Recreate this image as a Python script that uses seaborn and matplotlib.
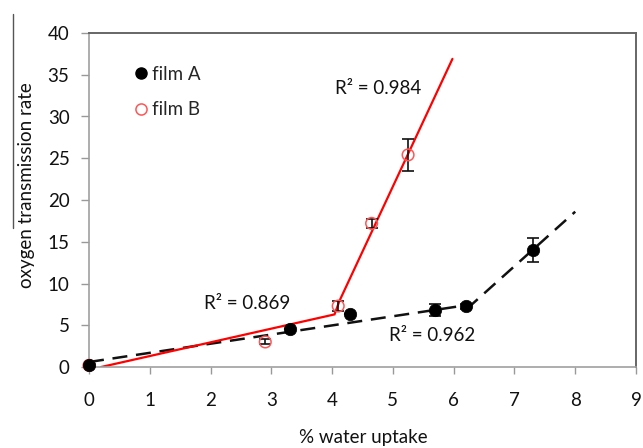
import matplotlib
matplotlib.use("Agg")
import matplotlib.pyplot as plt
import seaborn as sns
import pandas as pd
from matplotlib.lines import Line2D

# ---- data ----
film_a_x = [0.0, 3.3, 4.3, 5.7, 6.2, 7.3]
film_a_y = [0.25, 4.5, 6.4, 6.8, 7.3, 14.0]
film_a_err = [0.0, 0.0, 0.0, 0.7, 0.3, 1.4]

film_b_x = [0.0, 2.9, 4.1, 4.65, 5.25]
film_b_y = [0.2, 3.0, 7.3, 17.2, 25.4]
film_b_err = [0.0, 0.3, 0.6, 0.5, 1.9]

# trend lines (piecewise)
fit_b_x = [0.2, 4.04, 4.12, 5.98]
fit_b_y = [0.0, 6.3, 7.9, 36.9]
fit_a_x = [0.0, 6.3, 8.0]
fit_a_y = [0.6, 7.5, 18.6]

r2_labels = ["R\u00b2 = 0.984", "R\u00b2 = 0.869", "R\u00b2 = 0.962"]
r2_pos_x = [4.75, 2.6, 5.65]
r2_pos_y = [33.4, 7.6, 3.8]

x_ticks = list(range(0, 10))
y_ticks = list(range(0, 45, 5))

sns.set_theme(style="white")
plt.rcParams['font.family'] = ['Lato', 'DejaVu Sans']

fig = plt.figure(figsize=(6.43, 4.48), dpi=100)
ax = fig.add_axes([89/643, 1-367/448, (636-89)/643, (367-33)/448])

dfa = pd.DataFrame({"x": film_a_x, "y": film_a_y})
dfb = pd.DataFrame({"x": film_b_x, "y": film_b_y})
fa = pd.DataFrame({"x": fit_a_x, "y": fit_a_y})
fb = pd.DataFrame({"x": fit_b_x, "y": fit_b_y})

# error bars (black)
ax.errorbar(film_a_x, film_a_y, yerr=film_a_err, fmt='none', ecolor='#111111',
            elinewidth=1.2, capsize=4, capthick=1.2, zorder=3)
ax.errorbar(film_b_x, film_b_y, yerr=film_b_err, fmt='none', ecolor='#111111',
            elinewidth=1.2, capsize=4, capthick=1.2, zorder=3)

sns.lineplot(data=fa, x="x", y="y", sort=False, ax=ax, color='#111111',
             linewidth=1.8, zorder=2)
ax.lines[-1].set_dashes([6, 3.5])
sns.lineplot(data=fb, x="x", y="y", sort=False, ax=ax, color='#ff0000',
             linewidth=1.6, zorder=2)

sns.scatterplot(data=dfb, x="x", y="y", ax=ax, s=70, facecolor='none',
                edgecolor='#ff5555', linewidth=1.1, zorder=4, clip_on=False)
sns.scatterplot(data=dfa, x="x", y="y", ax=ax, s=80, color='black',
                edgecolor='black', linewidth=0.5, zorder=5, clip_on=False)

for t, px, py in zip(r2_labels, r2_pos_x, r2_pos_y):
    ax.text(px, py, t, fontsize=13.5, ha='center', va='center', color='#111111',
            bbox=dict(facecolor='white', edgecolor='none', pad=2), zorder=1)

# legend
handles = [Line2D([], [], marker='o', linestyle='none', markersize=8,
                  markerfacecolor='black', markeredgecolor='black'),
           Line2D([], [], marker='o', linestyle='none', markersize=8,
                  markerfacecolor='none', markeredgecolor='#ff5555', markeredgewidth=1.1)]
ax.legend(handles, ["film A", "film B"], loc='upper left', bbox_to_anchor=(0.06, 0.925),
          frameon=False, fontsize=13.5, handletextpad=0.0, handlelength=1.2,
          labelspacing=1.0, borderaxespad=0)

ax.set_xlim(0, 9)
ax.set_ylim(0, 40)
ax.set_xticks(x_ticks)
ax.set_yticks(y_ticks)
ax.set_xticklabels([str(v) for v in x_ticks], fontsize=13.5)
ax.set_yticklabels([str(v) for v in y_ticks], fontsize=13.5)
ax.tick_params(axis='x', direction='out', length=5, width=1, color='#999999', pad=13, labelcolor='#111111')
ax.tick_params(axis='y', direction='out', length=6, width=1, color='#999999', pad=8, labelcolor='#111111')
ax.tick_params(bottom=True, left=True)
ax.set_xlabel("")
ax.set_ylabel("")

for side in ['left', 'bottom']:
    ax.spines[side].set_color('#a0a0a0')
    ax.spines[side].set_linewidth(1.2)
for side in ['top', 'right']:
    ax.spines[side].set_color('#666666')
    ax.spines[side].set_linewidth(1.4)
    ax.spines[side].set_visible(True)

fig.text(363/643, 1-437/448, "% water uptake", fontsize=13.5, ha='center', va='center', color='#111111')
fig.text(27/643, 1-185/448, "oxygen transmission rate", fontsize=13.5, rotation=90,
         ha='center', va='center', color='#111111')
fig.add_artist(Line2D([13/643, 13/643], [1-14/448, 1-228/448], color='#555555', linewidth=1.0))

fig.savefig("out.png", dpi=100)
